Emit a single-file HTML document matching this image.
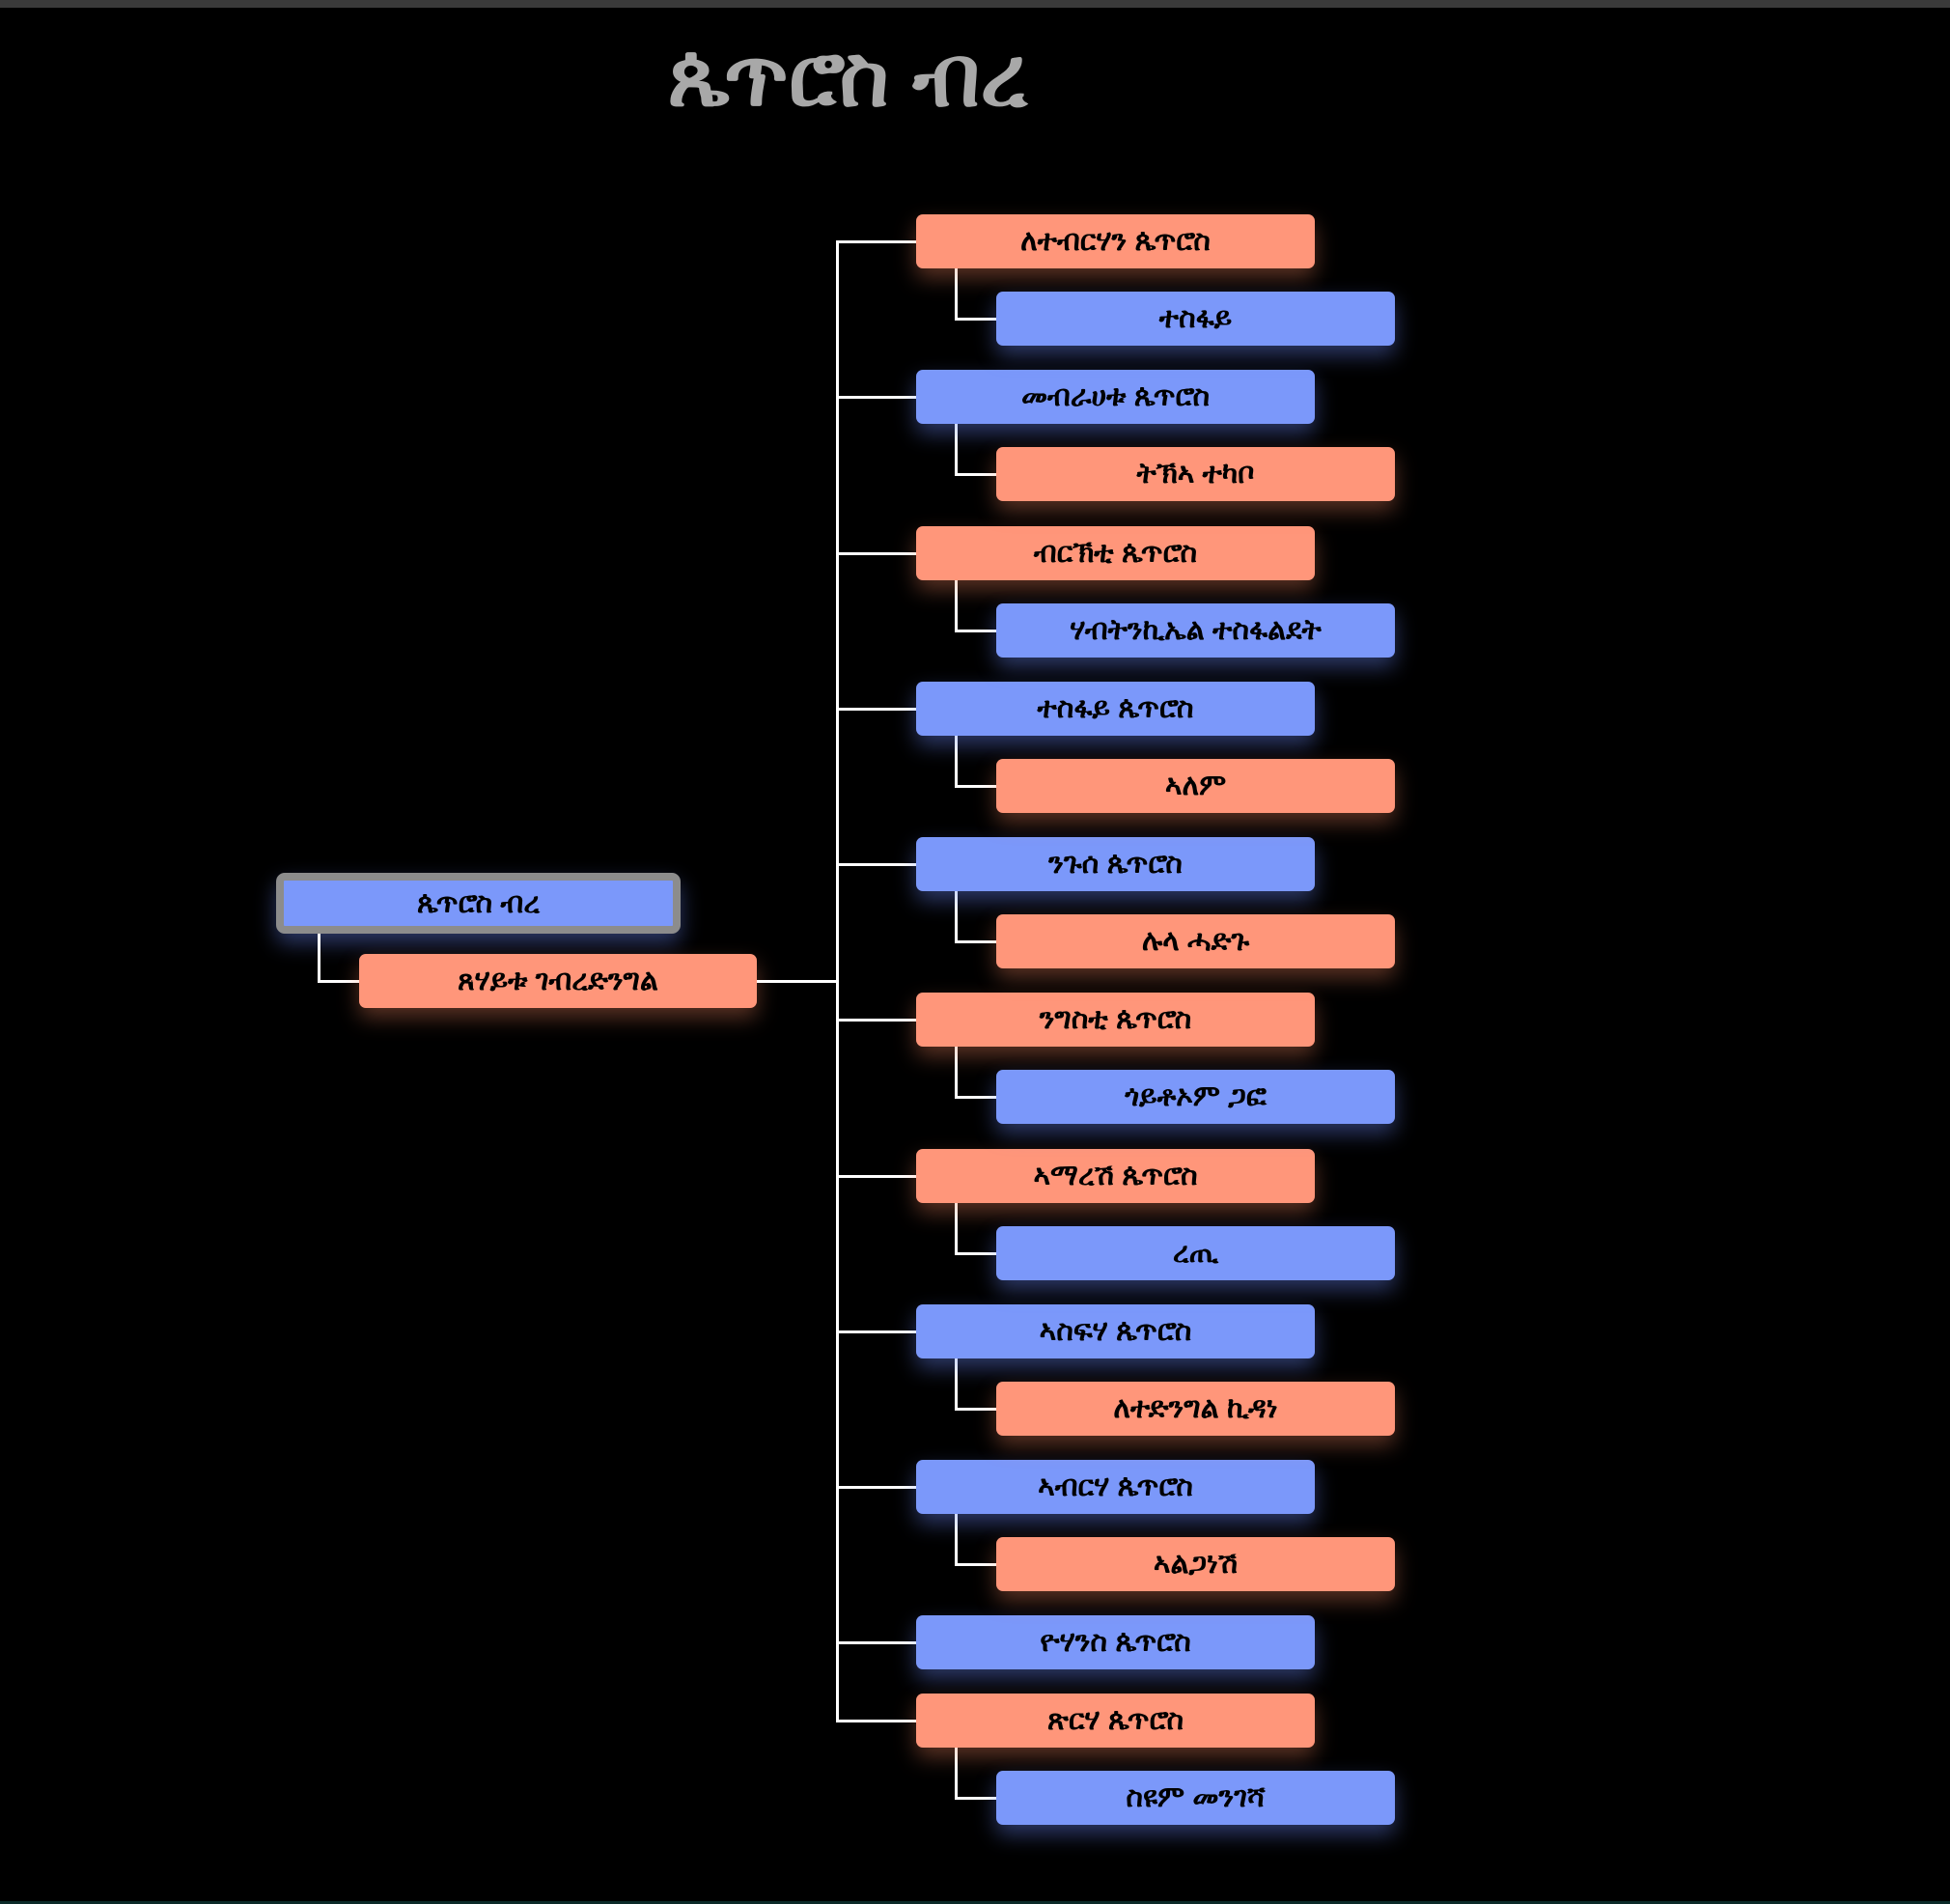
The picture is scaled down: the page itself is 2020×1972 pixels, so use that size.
<!DOCTYPE html>
<html><head><meta charset="utf-8"><style>
html,body{margin:0;padding:0;background:#000;}
body{width:2020px;height:1972px;position:relative;overflow:hidden;font-family:"Liberation Sans","DejaVu Sans",sans-serif;}
.b{position:absolute;height:56px;width:413px;border-radius:7px;display:flex;align-items:center;justify-content:center;font-size:30px;font-weight:bold;color:#000;box-sizing:border-box;}
.s{background:#ff967a;box-shadow:0 10px 22px rgba(255,140,100,0.35);}
.u{background:#7b98fa;box-shadow:0 10px 22px rgba(110,140,255,0.4);}
.p{left:949px}.c{left:1032px}
.h{position:absolute;height:3px;background:#fff;}
.v{position:absolute;width:3px;background:#fff;}
</style></head><body>
<div style="position:absolute;left:0;top:0;width:2020px;height:8px;background:#3a3a3a"></div>
<div style="position:absolute;left:0;bottom:0;width:2020px;height:3px;background:#0b2a28"></div>
<div style="position:absolute;left:580px;top:28px;width:596px;text-align:center;font-size:88px;color:#a8a8a8;font-weight:bold;">ጴጥሮስ ብረ</div>

<div class="v" style="left:866px;top:249px;height:1535px"></div>
<div class="b u" style="left:286px;top:904px;width:419px;height:63px;border:8px solid #8c8c8c;border-radius:9px;">ጴጥሮስ ብረ</div>
<div class="v" style="left:329px;top:967px;height:50px"></div>
<div class="h" style="left:329px;top:1015px;width:43px"></div>
<div class="b s" style="left:372px;top:988px;width:412px;">ጸሃይቱ ገብረድንግል</div>
<div class="h" style="left:784px;top:1015px;width:84px"></div>

<div class="h" style="left:867px;top:249px;width:82px"></div>
<div class="h" style="left:867px;top:410px;width:82px"></div>
<div class="h" style="left:867px;top:572px;width:82px"></div>
<div class="h" style="left:867px;top:733px;width:82px"></div>
<div class="h" style="left:867px;top:894px;width:82px"></div>
<div class="h" style="left:867px;top:1055px;width:82px"></div>
<div class="h" style="left:867px;top:1217px;width:82px"></div>
<div class="h" style="left:867px;top:1378px;width:82px"></div>
<div class="h" style="left:867px;top:1539px;width:82px"></div>
<div class="h" style="left:867px;top:1700px;width:82px"></div>
<div class="h" style="left:867px;top:1781px;width:82px"></div>

<div class="v" style="left:989px;top:278px;height:53px"></div><div class="h" style="left:989px;top:329px;width:43px"></div>
<div class="v" style="left:989px;top:439px;height:53px"></div><div class="h" style="left:989px;top:490px;width:43px"></div>
<div class="v" style="left:989px;top:601px;height:53px"></div><div class="h" style="left:989px;top:652px;width:43px"></div>
<div class="v" style="left:989px;top:762px;height:53px"></div><div class="h" style="left:989px;top:813px;width:43px"></div>
<div class="v" style="left:989px;top:923px;height:53px"></div><div class="h" style="left:989px;top:974px;width:43px"></div>
<div class="v" style="left:989px;top:1084px;height:53px"></div><div class="h" style="left:989px;top:1135px;width:43px"></div>
<div class="v" style="left:989px;top:1246px;height:53px"></div><div class="h" style="left:989px;top:1297px;width:43px"></div>
<div class="v" style="left:989px;top:1407px;height:53px"></div><div class="h" style="left:989px;top:1458px;width:43px"></div>
<div class="v" style="left:989px;top:1568px;height:53px"></div><div class="h" style="left:989px;top:1619px;width:43px"></div>
<div class="v" style="left:989px;top:1810px;height:53px"></div><div class="h" style="left:989px;top:1861px;width:43px"></div>

<div class="b s p" style="top:222px">ለተብርሃን ጴጥሮስ</div>
<div class="b u p" style="top:383px">መብራሀቱ ጴጥሮስ</div>
<div class="b s p" style="top:545px">ብርኽቲ ጴጥሮስ</div>
<div class="b u p" style="top:706px">ተስፋይ ጴጥሮስ</div>
<div class="b u p" style="top:867px">ንጉሰ ጴጥሮስ</div>
<div class="b s p" style="top:1028px">ንግስቲ ጴጥሮስ</div>
<div class="b s p" style="top:1190px">ኣማረሽ ጴጥሮስ</div>
<div class="b u p" style="top:1351px">ኣስፍሃ ጴጥሮስ</div>
<div class="b u p" style="top:1512px">ኣብርሃ ጴጥሮስ</div>
<div class="b u p" style="top:1673px">ዮሃንስ ጴጥሮስ</div>
<div class="b s p" style="top:1754px">ጽርሃ ጴጥሮስ</div>

<div class="b u c" style="top:302px">ተስፋይ</div>
<div class="b s c" style="top:463px">ትኽኣ ተካቦ</div>
<div class="b u c" style="top:625px">ሃብትንኪኤል ተስፋልደት</div>
<div class="b s c" style="top:786px">ኣለም</div>
<div class="b s c" style="top:947px">ሉላ ሓድጉ</div>
<div class="b u c" style="top:1108px">ጎይቶኦም ጋፎ</div>
<div class="b u c" style="top:1270px">ረጢ</div>
<div class="b s c" style="top:1431px">ለተድንግል ኪዳነ</div>
<div class="b s c" style="top:1592px">ኣልጋነሽ</div>
<div class="b u c" style="top:1834px">ስዩም መንገሻ</div>
</body></html>
